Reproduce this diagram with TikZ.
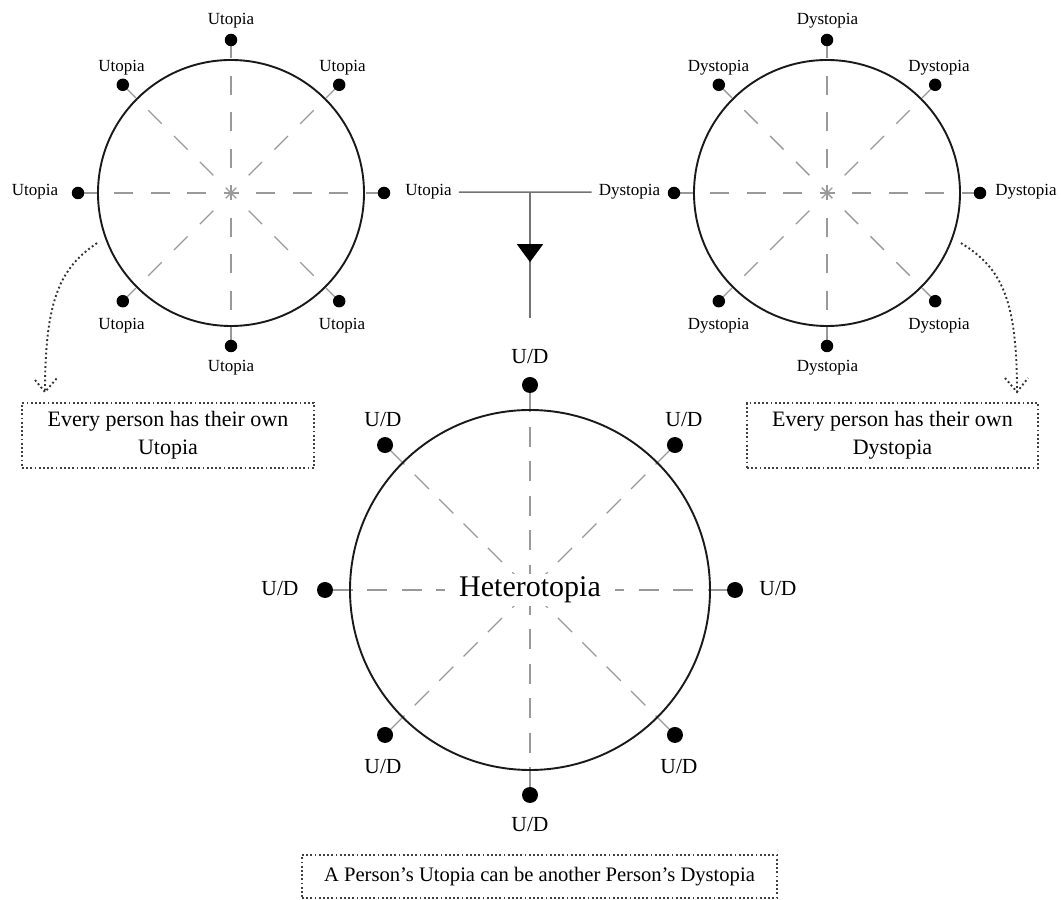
\documentclass[tikz,border=0pt]{standalone}
\usepackage{fontspec}
\setmainfont{Liberation Serif}
\usetikzlibrary{calc,arrows.meta,decorations.markings}
\pgfdeclarelayer{bg}
\pgfsetlayers{bg,main}
\begin{document}
\begin{tikzpicture}[x=1pt,y=1pt,
  ring/.style={circle,draw=black!90,line width=1.9pt,inner sep=0pt},
  sdot/.style={circle,fill=black,inner sep=0pt,minimum size=12.5pt},
  bdot/.style={circle,fill=black,inner sep=0pt,minimum size=16pt},
  sray/.style={draw=black!40,line width=1.4pt,dash pattern=on 19pt off 17.5pt,dash phase=11.5pt},
  bray/.style={draw=black!40,line width=1.4pt,dash pattern=on 20pt off 14.5pt,dash phase=29.5pt},
  slbl/.style={font=\fontsize{17}{20}\selectfont,inner sep=1pt,anchor=base},
  blbl/.style={font=\fontsize{21.5}{24}\selectfont,inner sep=1pt,anchor=base},
  notebox/.style={draw=black!75,line width=1.8pt,dash pattern=on 1.8pt off 2.4pt,align=center,inner sep=0pt},
  conn/.style={draw=black!55,line width=1.6pt},
  dotarrow/.style={draw=black!80,line width=1.9pt,dash pattern=on 1.9pt off 2.6pt}
]
\useasboundingbox (0,0) rectangle (1061,900);

% circles
\node[ring,minimum size=266pt] (L) at (231,707) {};
\node[ring,minimum size=266pt] (R) at (827,707) {};
\node[ring,minimum size=360pt] (H) at (530,310) {};

% rays and dots
\foreach \a in {0,45,...,315} {
  \coordinate (Lp\a) at ($(L.center)+(\a:153)$);
  \coordinate (Rp\a) at ($(R.center)+(\a:153)$);
  \coordinate (Hp\a) at ($(H.center)+(\a:205)$);
  \begin{pgfonlayer}{bg}
    \draw[sray] (L.center) -- (Lp\a);
    \draw[sray] (R.center) -- (Rp\a);
    \draw[bray] (H.center) -- (Hp\a);
  \end{pgfonlayer}
  \node[sdot] (Ld\a) at (Lp\a) {};
  \node[sdot] (Rd\a) at (Rp\a) {};
  \node[bdot] (Hd\a) at (Hp\a) {};
}

% left circle labels
\node[slbl] (Ln)  at (231,875)   {Utopia};
\node[slbl] (Lnw) at (121.5,828) {Utopia};
\node[slbl] (Lne) at (342.5,828) {Utopia};
\node[slbl] (Lw)  at (35,704)    {Utopia};
\node[slbl] (Lsw) at (121.5,570) {Utopia};
\node[slbl] (Lse) at (342,570)   {Utopia};
\node[slbl] (Ls)  at (231,528)   {Utopia};
\node[slbl,inner xsep=7pt] (uc) at (428.5,704) {Utopia};

% right circle labels
\node[slbl] (Rn)  at (827.5,875) {Dystopia};
\node[slbl] (Rnw) at (718.5,828) {Dystopia};
\node[slbl] (Rne) at (939,828)   {Dystopia};
\node[slbl] (Re)  at (1026,704)  {Dystopia};
\node[slbl] (Rsw) at (718.5,570) {Dystopia};
\node[slbl] (Rse) at (939,570)   {Dystopia};
\node[slbl] (Rs)  at (827.5,528) {Dystopia};
\node[slbl,inner xsep=7pt] (dc) at (629.5,704) {Dystopia};

% heterotopia labels
\node[blbl] (Hn)  at (530,536) {U/D};
\node[blbl] (Hnw) at (383,473) {U/D};
\node[blbl] (Hne) at (684,473) {U/D};
\node[blbl] (Hw)  at (280,304) {U/D};
\node[blbl] (He)  at (778,304) {U/D};
\node[blbl] (Hsw) at (383,126) {U/D};
\node[blbl] (Hse) at (679,126) {U/D};
\node[blbl] (Hs)  at (530,68)  {U/D};
\node[fill=white,inner xsep=14pt,inner ysep=3pt,font=\fontsize{30}{34}\selectfont] (ht) at (H.center) {Heterotopia};

% connector
\draw[conn] (uc.east) -- (dc.west);
\coordinate (J) at (uc.east -| H.center);
\coordinate (vend) at (530,582);
\draw[conn,postaction={decorate},decoration={markings,mark=at position 0.556 with {\arrow{Triangle[width=26pt,length=18pt,color=black]}}}] (J) -- (vend);

% notes
\node[notebox,minimum width=292pt,minimum height=65pt,font=\fontsize{22}{28}\selectfont] (nL) at (168,464.5) {Every person has their own\\Utopia};
\node[notebox,minimum width=291pt,minimum height=65pt,font=\fontsize{22}{28}\selectfont] (nR) at (892.5,464.5) {Every person has their own\\Dystopia};
\node[notebox,minimum width=475pt,minimum height=43pt,font=\fontsize{20.6}{24}\selectfont] (nB) at (539.5,23.5) {A Person’s Utopia can be another Person’s Dystopia};

% dotted curved arrows
\coordinate (ls) at ($(L.center)+(200.5:143)$);
\coordinate (lt) at (45,508);
\draw[dotarrow] (ls) .. controls (60,632) and (45,600) .. (lt);
\draw[dotarrow] ($(lt)+(-10,12)$) -- (lt) -- ($(lt)+(12,14)$);
\coordinate (rs) at ($(R.center)+(-20.5:143)$);
\coordinate (rt) at (1017,508);
\draw[dotarrow] (rs) .. controls (1002,632) and (1017,600) .. (rt);
\draw[dotarrow] ($(rt)+(-12,14)$) -- (rt) -- ($(rt)+(11,14)$);
\end{tikzpicture}
\end{document}
